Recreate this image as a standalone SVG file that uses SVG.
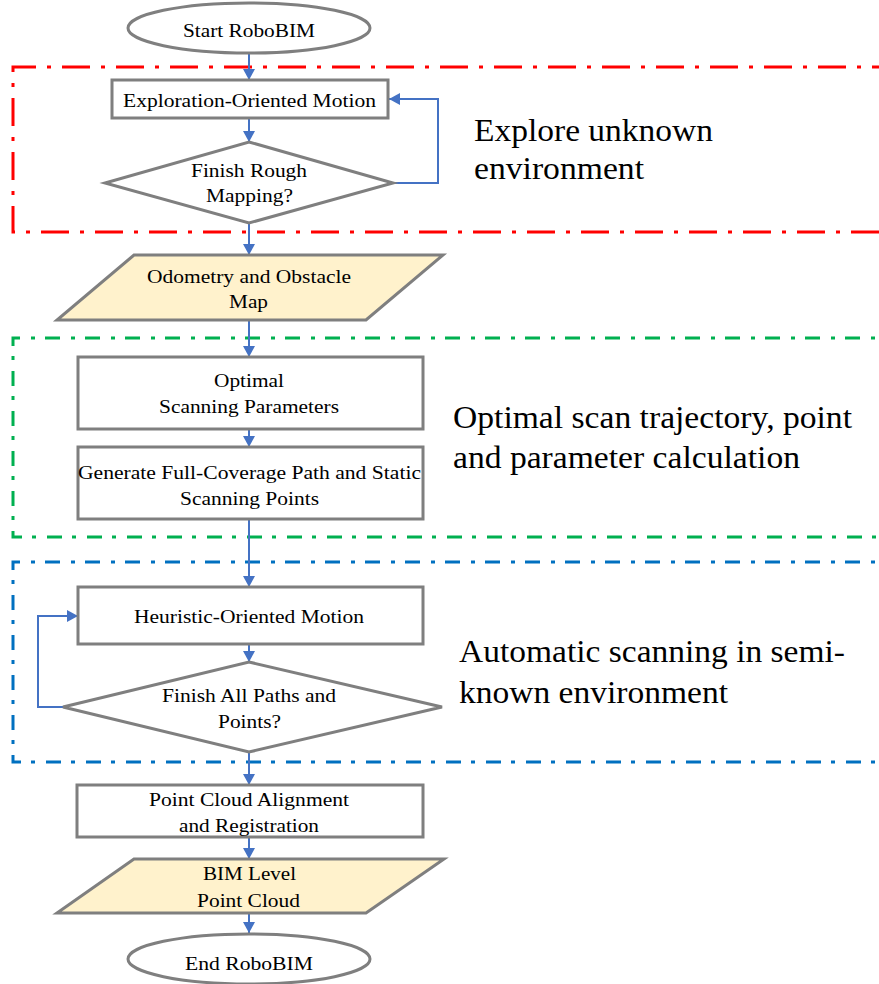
<svg xmlns="http://www.w3.org/2000/svg" width="879" height="984" viewBox="0 0 879 984">
<defs>
<marker id="arr" viewBox="0 0 11 12" refX="11" refY="6" markerWidth="11" markerHeight="12" markerUnits="userSpaceOnUse" orient="auto">
<path d="M0,0 L11,6 L0,12 z" fill="#4472c4"/>
</marker>
<style>
.node{fill:#ffffff;stroke:#7f7f7f;stroke-width:3}
.data{fill:#fff2cc;stroke:#7f7f7f;stroke-width:3}
.t{font-family:"Liberation Serif","Times New Roman",serif;font-size:19px;fill:#000}
.big{font-family:"Liberation Serif","Times New Roman",serif;font-size:31px;fill:#000}
.c{fill:none;stroke:#4472c4;stroke-width:2;marker-end:url(#arr)}
.frame{fill:none;stroke-width:3;stroke-dasharray:28 11 4 11}
.frame2{fill:none;stroke-width:3;stroke-dasharray:15 10 4 11}
</style>
</defs>
<rect width="879" height="984" fill="#ffffff"/>
<g id="frames">
<path class="frame" stroke="#ff0000" d="M900,67 H13 V232 H900"/>
<path class="frame2" stroke="#00b050" d="M900,338 H13 V537 H900"/>
<path class="frame2" stroke="#0070c0" d="M900,562 H13 V762 H900"/>
</g>
<g id="connectors">
<path class="c" d="M249,53 V80"/>
<path class="c" d="M249,118 V142"/>
<path class="c" d="M393,183 H438 V99 H389"/>
<path class="c" d="M249,223 V255"/>
<path class="c" d="M249,320 V357"/>
<path class="c" d="M249,429 V447"/>
<path class="c" d="M249,519 V587"/>
<path class="c" d="M249,644 V662"/>
<path class="c" d="M63,707 H38 V616 H78"/>
<path class="c" d="M249,752 V785"/>
<path class="c" d="M249,837 V859"/>
<path class="c" d="M249,913 V933"/>
</g>
<g id="start">
<ellipse class="node" cx="249" cy="28" rx="121" ry="25"/>
<text class="t" x="183" y="37" textLength="132" lengthAdjust="spacingAndGlyphs">Start RoboBIM</text>
</g>
<g id="explore-motion">
<rect class="node" x="112" y="80" width="276" height="38"/>
<text class="t" x="123" y="107" textLength="253" lengthAdjust="spacingAndGlyphs">Exploration-Oriented Motion</text>
</g>
<g id="finish-rough">
<polygon class="node" points="249,142 393,183 249,223 105,183"/>
<text class="t" x="191" y="177" textLength="116" lengthAdjust="spacingAndGlyphs">Finish Rough</text>
<text class="t" x="206" y="202" textLength="87" lengthAdjust="spacingAndGlyphs">Mapping?</text>
</g>
<g id="odometry-map">
<polygon class="data" points="134,255 443,255 366,320 57,320"/>
<text class="t" x="147" y="283" textLength="204" lengthAdjust="spacingAndGlyphs">Odometry and Obstacle</text>
<text class="t" x="229" y="308" textLength="39" lengthAdjust="spacingAndGlyphs">Map</text>
</g>
<g id="optimal-params">
<rect class="node" x="78" y="357" width="345" height="72"/>
<text class="t" x="214" y="387" textLength="70" lengthAdjust="spacingAndGlyphs">Optimal</text>
<text class="t" x="159" y="413" textLength="180" lengthAdjust="spacingAndGlyphs">Scanning Parameters</text>
</g>
<g id="generate-path">
<rect class="node" x="78" y="447" width="345" height="72"/>
<text class="t" x="78" y="479" textLength="343" lengthAdjust="spacingAndGlyphs">Generate Full-Coverage Path and Static</text>
<text class="t" x="180" y="505" textLength="139" lengthAdjust="spacingAndGlyphs">Scanning Points</text>
</g>
<g id="heuristic-motion">
<rect class="node" x="78" y="587" width="345" height="57"/>
<text class="t" x="134" y="623" textLength="230" lengthAdjust="spacingAndGlyphs">Heuristic-Oriented Motion</text>
</g>
<g id="finish-all">
<polygon class="node" points="249,662 442,707 249,752 63,707"/>
<text class="t" x="162" y="702" textLength="174" lengthAdjust="spacingAndGlyphs">Finish All Paths and</text>
<text class="t" x="218" y="728" textLength="63" lengthAdjust="spacingAndGlyphs">Points?</text>
</g>
<g id="alignment">
<rect class="node" x="77" y="785" width="346" height="52"/>
<text class="t" x="149" y="806" textLength="200" lengthAdjust="spacingAndGlyphs">Point Cloud Alignment</text>
<text class="t" x="179" y="832" textLength="140" lengthAdjust="spacingAndGlyphs">and Registration</text>
</g>
<g id="bim-cloud">
<polygon class="data" points="134,859 444,859 366,913 57,913"/>
<text class="t" x="203" y="880" textLength="93" lengthAdjust="spacingAndGlyphs">BIM Level</text>
<text class="t" x="197" y="907" textLength="103" lengthAdjust="spacingAndGlyphs">Point Cloud</text>
</g>
<g id="end">
<ellipse class="node" cx="249" cy="959" rx="121" ry="25"/>
<text class="t" x="185" y="970" textLength="128" lengthAdjust="spacingAndGlyphs">End RoboBIM</text>
</g>
<g id="labels">
<text class="big" x="474" y="141" textLength="239" lengthAdjust="spacingAndGlyphs">Explore unknown</text>
<text class="big" x="474" y="179" textLength="170" lengthAdjust="spacingAndGlyphs">environment</text>
<text class="big" x="453" y="428" textLength="399" lengthAdjust="spacingAndGlyphs">Optimal scan trajectory, point</text>
<text class="big" x="453" y="468" textLength="347" lengthAdjust="spacingAndGlyphs">and parameter calculation</text>
<text class="big" x="459" y="662" textLength="386" lengthAdjust="spacingAndGlyphs">Automatic scanning in semi-</text>
<text class="big" x="459" y="703" textLength="269" lengthAdjust="spacingAndGlyphs">known environment</text>
</g>
</svg>
